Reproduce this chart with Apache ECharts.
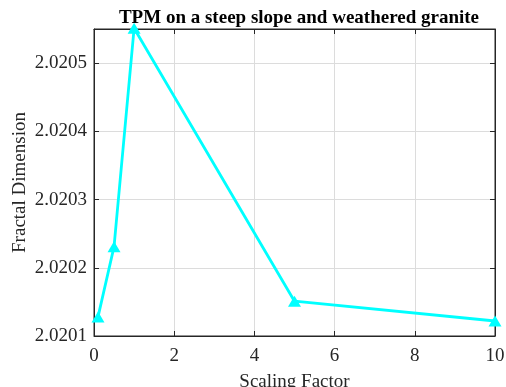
<!DOCTYPE html>
<html>
<head>
<meta charset="utf-8">
<script src="https://cdn.jsdelivr.net/npm/echarts@6/dist/echarts.min.js"></script>
<style>
  html, body { margin: 0; padding: 0; background: #fff; }
  #chart { width: 506px; height: 387px; }
</style>
</head>
<body>
<div id="chart"></div>
<script>
// scaling factors and fractal dimension
const scalingFactor = [0.1, 0.5, 1, 5, 10]
const fractalDim = [2.020128, 2.020231, 2.020551, 2.020151, 2.020122]

const chart = echarts.init(document.getElementById("chart"))

const font = "'Liberation Serif', 'Times New Roman', serif"
const axisColor = "#262626"

const option = {
  animation: false,
  title: {
    text: "TPM on a steep slope and weathered granite",
    left: 294,
    textAlign: "center",
    top: 4,
    textStyle: { fontFamily: font, fontSize: 19, fontWeight: "bold", color: "#000" },
  },
  grid: {
    left: 94,
    right: 11,
    top: 29,
    bottom: 51,
    outerBoundsMode: "none",
    containLabel: false,
    show: true,
    borderColor: axisColor,
    borderWidth: 1,
  },
  xAxis: [
    {
      type: "value",
      min: 0,
      max: 10,
      interval: 2,
      name: "Scaling Factor",
      nameLocation: "middle",
      nameGap: 37,
      nameTextStyle: { fontFamily: font, fontSize: 19, color: axisColor },
      axisLine: { onZero: false, lineStyle: { color: axisColor } },
      axisTick: { inside: true, length: 5, lineStyle: { color: axisColor } },
      axisLabel: { fontFamily: font, fontSize: 19, color: axisColor, margin: 11 },
      splitLine: { show: true, lineStyle: { color: "#dcdcdc" } },
    },
    {
      type: "value",
      position: "top",
      min: 0,
      max: 10,
      interval: 2,
      axisLine: { onZero: false, lineStyle: { color: axisColor } },
      axisTick: { inside: true, length: 5, lineStyle: { color: axisColor } },
      axisLabel: { show: false },
      splitLine: { show: false },
    },
  ],
  yAxis: [
    {
      type: "value",
      min: 2.0201,
      max: 2.02055,
      interval: 0.0001,
      name: "Fractal Dimension",
      nameLocation: "middle",
      nameGap: 64,
      nameMoveOverlap: false,
      nameTextStyle: { fontFamily: font, fontSize: 19, color: axisColor },
      axisLine: { show: true, onZero: false, lineStyle: { color: axisColor } },
      axisTick: { show: true, inside: true, length: 5, lineStyle: { color: axisColor } },
      axisLabel: {
        fontFamily: font,
        fontSize: 19,
        color: axisColor,
        margin: 7,
        showMaxLabel: false,
        formatter: (v) => v.toFixed(4),
      },
      splitLine: { show: true, lineStyle: { color: "#dcdcdc" } },
    },
    {
      type: "value",
      position: "right",
      min: 2.0201,
      max: 2.02055,
      interval: 0.0001,
      axisLine: { show: true, onZero: false, lineStyle: { color: axisColor } },
      axisTick: { show: true, inside: true, length: 5, lineStyle: { color: axisColor } },
      axisLabel: { show: false },
      splitLine: { show: false },
    },
  ],
  series: [
    {
      type: "line",
      data: scalingFactor.map((x, i) => [x, fractalDim[i]]),
      lineStyle: { color: "#00ffff", width: 2.8 },
      itemStyle: { color: "#00ffff" },
      symbol: "triangle",
      symbolSize: [13, 11],
      clip: false,
    },
  ],
}

chart.setOption(option)
</script>
</body>
</html>
